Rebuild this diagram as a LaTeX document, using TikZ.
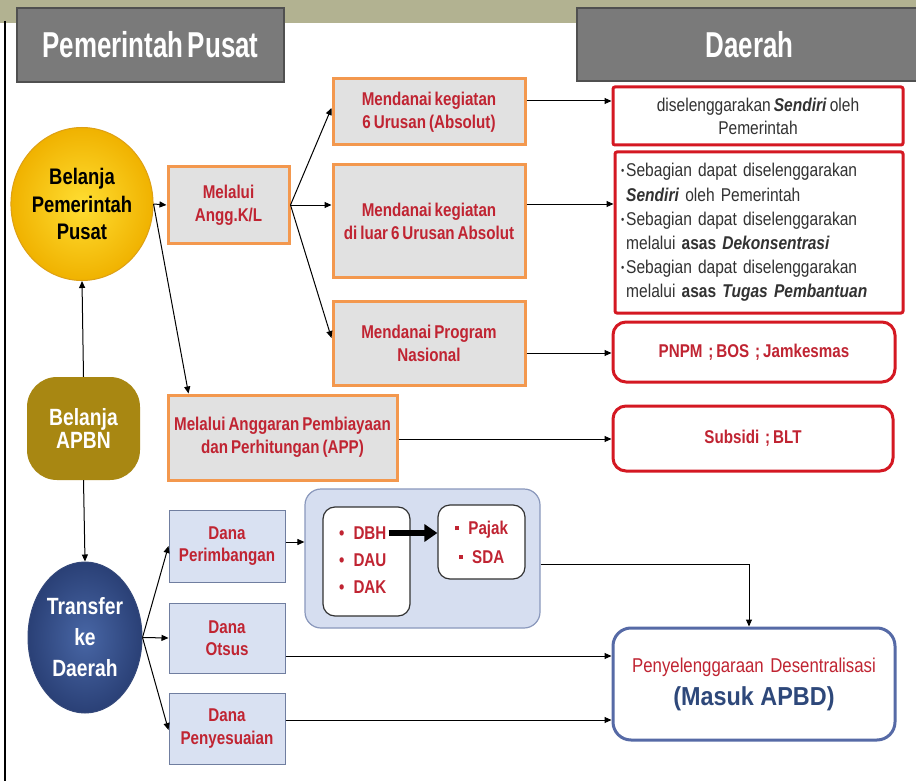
\documentclass[tikz,border=0pt]{standalone}
\usepackage{fontspec}
\setmainfont{Liberation Sans}
\newfontfamily\cond[FakeStretch=0.82,WordSpace=0.7]{Liberation Sans}
\newfontfamily\condr[FakeStretch=0.84,WordSpace=0.7]{Liberation Sans}
\newfontfamily\hdrfont[FakeStretch=0.72,WordSpace=0.6]{Liberation Sans}
\newfontfamily\semi[FakeStretch=0.9]{Liberation Sans}
\usetikzlibrary{shapes.geometric,arrows.meta,calc}
\definecolor{band}{RGB}{178,178,145}
\definecolor{hdrgray}{RGB}{122,122,122}
\definecolor{hdrbord}{RGB}{80,80,80}
\definecolor{redt}{RGB}{192,36,50}
\definecolor{orangeb}{RGB}{243,152,78}
\definecolor{boxgray}{RGB}{225,225,225}
\definecolor{redb}{RGB}{212,24,34}
\definecolor{darkt}{RGB}{50,50,50}
\definecolor{bluef}{RGB}{217,225,242}
\definecolor{blueb}{RGB}{112,126,160}
\definecolor{contf}{RGB}{214,222,240}
\definecolor{contb}{RGB}{138,152,188}
\definecolor{masukb}{RGB}{86,106,166}
\definecolor{navyt}{RGB}{46,72,122}
\definecolor{yel1}{RGB}{255,222,50}
\definecolor{yel2}{RGB}{240,178,0}
\definecolor{yelb}{RGB}{222,160,20}
\definecolor{blu1}{RGB}{72,102,165}
\definecolor{blu2}{RGB}{42,64,118}
\definecolor{blub}{RGB}{52,72,122}
\definecolor{apbnc}{RGB}{168,135,18}
\newcommand{\smallbul}{{\fontsize{11}{11}\selectfont\raisebox{2pt}{\textbullet}}}
\newcommand{\sqbul}{\raisebox{4pt}{\rule{4.5pt}{4.5pt}}}
\tikzset{
  arr/.style={-{Triangle[length=7pt,width=6pt]}, line width=1pt, draw=black},
  thickarr/.style={-{Triangle[length=13pt,width=17pt]}, line width=5.5pt, draw=black},
  hdr/.style={draw=hdrbord, line width=1.5pt, fill=hdrgray, text=white, inner sep=0pt,
    font=\hdrfont\bfseries\fontsize{36}{40}\selectfont},
  obox/.style={draw=orangeb, line width=3pt, fill=boxgray, text=redt, inner sep=0pt,
    align=center, font=\cond\bfseries\fontsize{18.5}{23}\selectfont},
  rbox/.style={draw=redb, line width=3pt, fill=white, rounded corners=2pt, inner sep=0pt},
  rrbox/.style={draw=redb, line width=3pt, fill=white, rounded corners=13pt, inner sep=0pt,
    text=redt, font=\cond\bfseries\fontsize{18.5}{22}\selectfont},
  bbox/.style={draw=blueb, line width=1pt, fill=bluef, text=redt, inner sep=0pt,
    align=center, font=\cond\bfseries\fontsize{18.5}{22.5}\selectfont},
  ibox/.style={draw=darkt, line width=1.2pt, fill=white, rounded corners=12pt, inner sep=0pt},
  itemtxt/.style={text=redt, inner sep=0pt, anchor=west, font=\cond\bfseries\fontsize{18.5}{22}\selectfont},
}
\begin{document}
\begin{tikzpicture}[x=1pt,y=-1pt]
\useasboundingbox (0,0) rectangle (916,781);
\fill[white] (0,0) rectangle (916,781);
\fill[band] (0,0) rectangle (916,23);
\draw[line width=1.5pt] (5,21) -- (5,781);

% headers
\node[hdr, minimum width=267pt, minimum height=74pt] (hl) at (150.5,45) {Pemerintah Pusat};
\node[hdr, minimum width=345pt, minimum height=73pt] (hr) at (749.5,44.5) {Daerah};

% left column
\node[ellipse, minimum width=117pt, minimum height=153pt, inner sep=0pt,
  shading=radial, inner color=yel1, outer color=yel2, draw=yelb, line width=1pt,
  align=center, font=\cond\bfseries\fontsize{22.5}{27.5}\selectfont] (bpp) at (82,204)
  {Belanja\\Pemerintah\\Pusat};
\node[rectangle, rounded corners=30pt, fill=apbnc, minimum width=113pt, minimum height=103pt,
  inner sep=0pt, text=white, align=center, font=\cond\bfseries\fontsize{23.5}{23}\selectfont]
  (apbn) at (83.5,428.5) {Belanja\\APBN};
\node[ellipse, minimum width=114pt, minimum height=151pt, inner sep=0pt,
  shading=radial, inner color=blu1, outer color=blu2, draw=blub, line width=1pt,
  text=white, align=center, font=\cond\bfseries\fontsize{23.5}{31}\selectfont] (tkd) at (85,637.5)
  {Transfer\\ke\\Daerah};

% second column
\node[obox, minimum width=121pt, minimum height=76pt] (kl) at (228.5,205) {Melalui\\Angg.K/L};
\node[obox, minimum width=229pt, minimum height=85pt] (app) at (282.5,437.5)
  {Melalui Anggaran Pembiayaan\\dan Perhitungan (APP)};
\node[bbox, minimum width=116pt, minimum height=72pt] (dper) at (227,546) {Dana\\Perimbangan};
\node[bbox, minimum width=116pt, minimum height=70pt] (dots) at (227,638) {Dana\\Otsus};
\node[bbox, minimum width=116pt, minimum height=71pt] (dpen) at (227,728.5) {Dana\\Penyesuaian};

% third column
\node[obox, minimum width=192pt, minimum height=66pt] (m6) at (429,112)
  {Mendanai kegiatan\\6 Urusan (Absolut)};
\node[obox, minimum width=192pt, minimum height=112pt] (mluar) at (429,221)
  {Mendanai kegiatan\\di luar 6 Urusan Absolut};
\node[obox, minimum width=192pt, minimum height=84pt] (mprog) at (429,343)
  {Mendanai Program\\Nasional};

% container
\node[draw=contb, line width=1.2pt, fill=contf, rounded corners=16pt, inner sep=0pt,
  minimum width=235pt, minimum height=139pt] (cont) at (422.5,558.5) {};
\node[ibox, minimum width=87pt, minimum height=109pt] (ib1) at (366.5,561.5) {};
\node[ibox, minimum width=87pt, minimum height=74pt, text=redt, align=center,
  font=\cond\bfseries\fontsize{18.5}{29}\selectfont] (ib2) at (481.5,542)
  {\sqbul\hspace{9pt}Pajak\\\sqbul\hspace{9pt}SDA};
\node[itemtxt] (dbh) at (339,533) {\textbullet\hspace{9pt}DBH};
\node[itemtxt] (dau) at (339,560) {\textbullet\hspace{9pt}DAU};
\node[itemtxt] (dak) at (339,587) {\textbullet\hspace{9pt}DAK};

% right column
\node[rbox, minimum width=290pt, minimum height=58pt, text=darkt, align=center,
  font=\condr\fontsize{18.5}{23}\selectfont] (r1) at (758,116)
  {diselenggarakan \textbf{\textit{Sendiri}} oleh\\Pemerintah};
\node[rbox, minimum width=288pt, minimum height=161pt, text width=276pt, inner xsep=6pt,
  align=left, text=darkt, font=\condr\fontsize{18.5}{24.2}\selectfont] (r2) at (759,232.5)
  {\begin{tabular}{@{}l@{\hspace{2pt}}l@{}}
   \smallbul & Sebagian dapat diselenggarakan\\
             & \textbf{\textit{Sendiri}} oleh Pemerintah\\
   \smallbul & Sebagian dapat diselenggarakan\\
             & melalui \textbf{asas \textit{Dekonsentrasi}}\\
   \smallbul & Sebagian dapat diselenggarakan\\
             & melalui \textbf{asas \textit{Tugas Pembantuan}}
   \end{tabular}};
\node[rrbox, minimum width=282pt, minimum height=60pt] (r3) at (754,352)
  {PNPM~ ; BOS~ ; Jamkesmas};
\node[rrbox, minimum width=280pt, minimum height=65pt] (sub) at (753,438.5)
  {Subsidi~ ; BLT};
\node[draw=masukb, line width=3pt, fill=white, rounded corners=18pt, inner sep=0pt,
  minimum width=282pt, minimum height=112pt, align=center,
  font=\fontsize{26}{33}\selectfont] (masuk) at (754,684)
  {{\condr\fontsize{20}{20}\selectfont\color{redt}Penyelenggaraan\ \ Desentralisasi}\\
   {\semi\bfseries\color{navyt}(Masuk APBD)}};

% connectors
\draw[arr] (bpp.east) -- (kl.west);
\draw[arr] (kl.east) -- ([yshift=4pt]m6.west);
\draw[arr] (kl.east) -- (kl.east -| mluar.west);
\draw[arr] (kl.east) -- ([yshift=5pt]mprog.west);
\draw[arr] (bpp.east) -- ([xshift=22pt]app.north west);
\draw[arr] (apbn.north) -- (bpp.south);
\draw[arr] (apbn.south) -- (tkd.north);
\draw[arr] ([yshift=11pt]m6.east) -- ([yshift=11pt]m6.east -| r1.west);
\draw[arr] ([yshift=17pt]mluar.east) -- ([yshift=17pt]mluar.east -| r2.west);
\draw[arr] ([yshift=-10pt]mprog.east) -- ([yshift=-10pt]mprog.east -| r3.west);
\draw[arr] ([yshift=-1.5pt]app.east) -- ([yshift=-1.5pt]app.east -| sub.west);
\draw[arr] (tkd.east) -- (dper.west);
\draw[arr] (tkd.east) -- (dots.west);
\draw[arr] (tkd.east) -- ([yshift=-1.5pt]dpen.west);
\draw[arr] ([yshift=4pt]dper.east) -- ([yshift=4pt]dper.east -| cont.west);
\draw[thickarr] ([xshift=2pt]dbh.east) -- (dbh.east -| ib2.west);
\draw[arr] ([yshift=-5.5pt]cont.east) -| ([xshift=-5pt]masuk.north);
\draw[arr] ([yshift=-18pt]dots.east) -- ([yshift=-18pt]dots.east -| masuk.west);
\draw[arr] ([yshift=8.5pt]dpen.east) -- ([yshift=8.5pt]dpen.east -| masuk.west);
\end{tikzpicture}
\end{document}
